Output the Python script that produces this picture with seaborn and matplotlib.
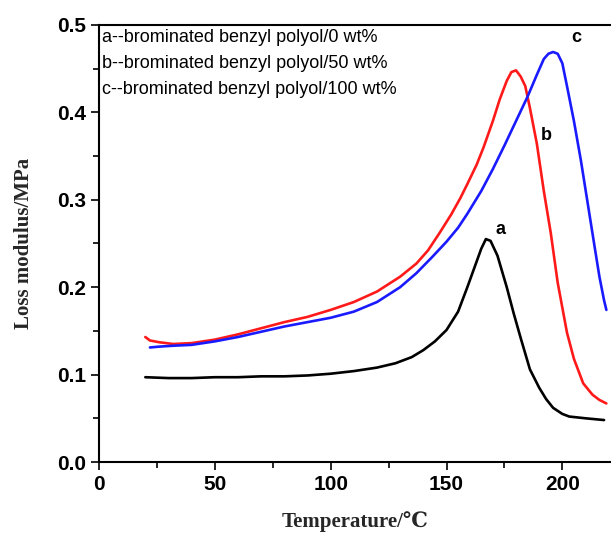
import matplotlib
matplotlib.use('Agg')
import matplotlib.pyplot as plt
import seaborn as sns
import pandas as pd
from matplotlib.ticker import MultipleLocator, FormatStrFormatter

# curve a: 0 wt%
temp_a = [20, 30, 40, 50, 60, 70, 80, 90, 100, 110, 120, 128, 135, 140, 145, 150,
          155, 159, 162, 165, 167, 169, 172, 176, 179, 182, 186, 190, 193, 196,
          200, 203, 210, 218]
mod_a = [0.097, 0.096, 0.096, 0.097, 0.097, 0.098, 0.098, 0.099, 0.101, 0.104,
         0.108, 0.113, 0.120, 0.128, 0.138, 0.151, 0.172, 0.200, 0.222, 0.244,
         0.255, 0.253, 0.236, 0.200, 0.170, 0.142, 0.106, 0.085, 0.072, 0.062,
         0.055, 0.052, 0.050, 0.048]

# curve b: 50 wt%
temp_b = [20, 22, 26, 32, 40, 50, 60, 70, 80, 90, 100, 110, 120, 130, 137, 142,
          147, 152, 156, 159, 163, 166, 170, 173, 176, 178, 180, 182, 184, 186,
          189, 192, 195, 198, 202, 205, 209, 213, 216, 219]
mod_b = [0.143, 0.139, 0.137, 0.135, 0.136, 0.140, 0.146, 0.153, 0.160, 0.166,
         0.174, 0.183, 0.195, 0.212, 0.227, 0.242, 0.262, 0.283, 0.302, 0.318,
         0.340, 0.360, 0.390, 0.415, 0.436, 0.446, 0.448, 0.441, 0.430, 0.405,
         0.364, 0.310, 0.262, 0.205, 0.148, 0.118, 0.090, 0.077, 0.071, 0.067]

# curve c: 100 wt%
temp_c = [22, 26, 32, 40, 50, 60, 70, 80, 90, 100, 110, 120, 130, 137, 144, 150,
          155, 159, 165, 170, 175, 180, 185, 189, 192, 194, 196, 198, 200, 202,
          205, 208, 211, 214, 216, 218, 219]
mod_c = [0.131, 0.132, 0.133, 0.134, 0.138, 0.143, 0.149, 0.155, 0.160, 0.165,
         0.172, 0.183, 0.200, 0.216, 0.235, 0.252, 0.268, 0.284, 0.310, 0.335,
         0.362, 0.390, 0.418, 0.443, 0.461, 0.467, 0.469, 0.467, 0.456, 0.430,
         0.390, 0.345, 0.295, 0.245, 0.212, 0.185, 0.174]

series = ['a', 'b', 'c']
colors = ['#000000', '#ff1a1a', '#1a1aff']
legend_lines = ['a--brominated benzyl polyol/0 wt%',
                'b--brominated benzyl polyol/50 wt%',
                'c--brominated benzyl polyol/100 wt%']

df = pd.concat([
    pd.DataFrame({'T': temp_a, 'E': mod_a, 's': 'a'}),
    pd.DataFrame({'T': temp_b, 'E': mod_b, 's': 'b'}),
    pd.DataFrame({'T': temp_c, 'E': mod_c, 's': 'c'}),
])

sns.set_style('ticks')
plt.rcParams['font.family'] = ['Liberation Sans', 'DejaVu Sans']
plt.rcParams['text.color'] = 'black'
plt.rcParams['xtick.color'] = 'black'
plt.rcParams['ytick.color'] = 'black'
plt.rcParams['axes.edgecolor'] = 'black'

fig = plt.figure(figsize=(6.11, 5.41), dpi=100)
ax = fig.add_axes([0.162, 0.146, 0.838, 0.808])

sns.lineplot(data=df, x='T', y='E', hue='s', palette=dict(zip(series, colors)),
             estimator=None, sort=False, linewidth=1.9, legend=False, ax=ax)

ax.set_xlim(0, 221)
ax.set_ylim(0, 0.5)
ax.xaxis.set_major_locator(MultipleLocator(50))
ax.xaxis.set_minor_locator(MultipleLocator(25))
ax.yaxis.set_major_locator(MultipleLocator(0.1))
ax.yaxis.set_minor_locator(MultipleLocator(0.05))
ax.yaxis.set_major_formatter(FormatStrFormatter('%.1f'))
ax.tick_params(which='major', length=6, width=1.2, labelsize=15)
ax.tick_params(which='minor', length=4, width=1.2)
for lab in ax.get_xticklabels() + ax.get_yticklabels():
    lab.set_fontweight('bold')
for side in ['left', 'bottom', 'top']:
    ax.spines[side].set_linewidth(1.5)
ax.spines['right'].set_visible(False)

serif = ['Liberation Serif', 'DejaVu Serif']
ax.set_xlabel('Temperature/℃', fontsize=15, fontweight='bold', family=serif, labelpad=12)
ax.set_ylabel('Loss modulus/MPa', fontsize=15, fontweight='bold', family=serif, labelpad=16)

for i, txt in enumerate(legend_lines):
    ax.text(1.5, 0.485 - i * 0.0295, txt, fontsize=13, va='center', ha='left')

ax.text(173.5, 0.266, 'a', fontsize=13, fontweight='bold', va='center', ha='center')
ax.text(193, 0.374, 'b', fontsize=13, fontweight='bold', va='center', ha='center')
ax.text(206, 0.485, 'c', fontsize=13, fontweight='bold', va='center', ha='center')

fig.savefig('out.png', dpi=100)
